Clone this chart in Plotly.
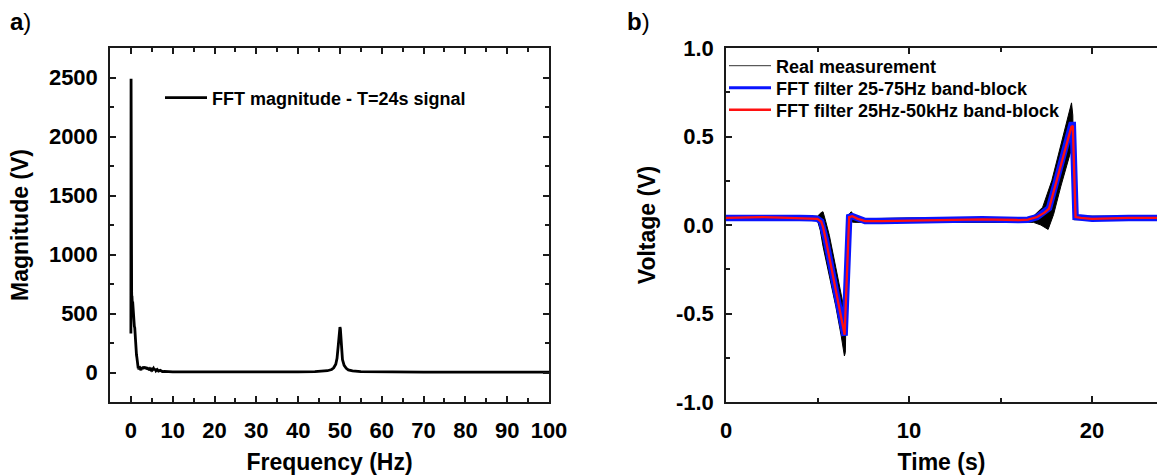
import plotly.graph_objects as go

# ---------------- Panel a) : FFT magnitude ----------------
freq_hz = [0, 0.04, 0.08, 0.12, 0.17, 0.21, 0.25, 0.33, 0.42, 0.5, 0.58, 0.67, 0.75, 0.83,
           0.92, 1.0, 1.08, 1.17, 1.25, 1.33, 1.42, 1.5, 1.58, 1.67, 1.75, 1.83, 1.92, 2.0,
           2.2, 2.4, 2.6, 2.8, 3.0, 3.2, 3.4, 3.6, 3.8, 4.0, 4.2, 4.4, 4.6, 4.8, 5.0, 5.2,
           5.4, 5.6, 5.8, 6.0, 6.3, 6.6, 7.0, 7.5, 8.0, 9.0, 10, 15, 20, 30, 40, 44, 46, 47,
           48, 48.5, 49, 49.3, 49.6, 49.8, 50.0, 50.1, 50.3, 50.6, 51, 51.5, 52, 53, 55, 58,
           62, 70, 80, 90, 100]
fft_mag = [330, 2490, 720, 640, 690, 610, 650, 590, 600, 540, 560, 480, 470, 390,
           380, 300, 290, 220, 200, 150, 130, 90, 70, 50, 35, 45, 25, 52,
           40, 20, 45, 30, 50, 35, 48, 30, 45, 25, 40, 18, 30, 22, 38, 25,
           35, 20, 32, 15, 25, 12, 18, 8, 10, 6, 6, 5, 4, 4, 5, 7, 10, 15,
           25, 40, 70, 120, 230, 340, 385, 370, 240, 110, 60, 35, 22, 14, 8, 6,
           5, 4, 4, 4, 4]
freq_ticks = [0, 10, 20, 30, 40, 50, 60, 70, 80, 90, 100]
mag_ticks = [0, 500, 1000, 1500, 2000, 2500]

# ---------------- Panel b) : time signals ----------------
# FFT filter 25Hz-50kHz band-block (red, smooth)
t_red = [0, 1, 2, 3, 4, 4.7, 5.0, 5.2, 5.3, 5.45, 6.48, 6.73, 6.9, 7.2, 7.6, 8.5, 10, 12,
         14, 16, 16.5, 17.0, 17.4, 17.65, 18.87, 18.95, 19.1, 19.4, 20, 22, 24]
v_red = [0.04, 0.042, 0.045, 0.042, 0.04, 0.038, 0.035, 0.02, -0.01, -0.08, -0.62, 0.045,
         0.05, 0.035, 0.022, 0.022, 0.025, 0.03, 0.032, 0.028, 0.03, 0.045, 0.07, 0.093,
         0.554, 0.56, 0.045, 0.04, 0.035, 0.04, 0.04]

# FFT filter 25-75Hz band-block (blue, noisy band)
t_blue = [0, 1, 2, 3, 4, 4.7, 5.0, 5.2, 5.3, 5.45, 6.48, 6.73, 6.9, 7.2, 7.6, 8.5, 10, 12,
          14, 16, 16.5, 17.0, 17.4, 17.65, 18.87, 18.95, 19.1, 19.4, 20, 22, 24]
v_blue = [0.04, 0.042, 0.045, 0.042, 0.04, 0.038, 0.035, 0.02, -0.01, -0.08, -0.625, 0.045,
          0.05, 0.035, 0.022, 0.022, 0.025, 0.03, 0.032, 0.028, 0.03, 0.045, 0.07, 0.095,
          0.565, 0.565, 0.045, 0.04, 0.035, 0.04, 0.04]

# Real measurement (black band: upper and lower envelopes)
t_meas_hi = [0, 5.0, 5.2, 5.3, 5.45, 5.65, 6.0, 6.35, 6.5, 6.56, 6.62, 6.75, 6.85, 7.0,
             7.3, 10, 16.5, 16.8, 17.3, 17.8, 18.3, 18.6, 18.88, 18.95, 19.0, 19.03, 24]
v_meas_hi = [0.05, 0.05, 0.07, 0.075, 0.02, -0.06, -0.24, -0.43, -0.5, -0.5, 0.0, 0.065,
             0.075, 0.05, 0.035, 0.04, 0.04, 0.05, 0.1, 0.25, 0.45, 0.57, 0.69, 0.62, 0.3,
             0.05, 0.05]
t_meas_lo = [0, 5.0, 5.15, 5.3, 6.0, 6.3, 6.47, 6.52, 6.58, 6.72, 7.0, 10, 16.5, 16.8,
             17.2, 17.6, 17.9, 18.3, 18.6, 18.85, 18.97, 19.02, 24]
v_meas_lo = [0.03, 0.025, -0.03, -0.12, -0.46, -0.63, -0.74, -0.72, -0.4, 0.02, 0.015, 0.015,
             0.015, 0.015, 0.0, -0.025, 0.06, 0.22, 0.33, 0.42, 0.4, 0.03, 0.03]
time_ticks = [0, 10, 20]
volt_ticks = [-1.0, -0.5, 0.0, 0.5, 1.0]
volt_labels = ["-1.0", "-0.5", "0.0", "0.5", "1.0"]

legend_a = ["FFT magnitude - T=24s signal"]
legend_b = ["Real measurement", "FFT filter 25-75Hz band-block", "FFT filter 25Hz-50kHz band-block"]

W, H = 1157, 475
FONT = "Liberation Sans, Arial, Helvetica, sans-serif"
AXC = "#1a1a1a"

def px_x(p):
    return p / W

def px_y(p):
    return 1 - p / H

fig = go.Figure()

# Panel a
fig.add_trace(go.Scatter(x=freq_hz, y=fft_mag, mode="lines", name=legend_a[0],
                         line=dict(color="black", width=2.8), xaxis="x", yaxis="y",
                         legend="legend"))

# Panel b: black measurement band
band_x = t_meas_hi + t_meas_lo[::-1]
band_y = v_meas_hi + v_meas_lo[::-1]
fig.add_trace(go.Scatter(x=band_x, y=band_y, mode="lines", fill="toself", fillcolor="black",
                         line=dict(color="black", width=1), showlegend=False,
                         xaxis="x2", yaxis="y2", hoverinfo="skip"))
fig.add_trace(go.Scatter(x=t_blue, y=v_blue, mode="lines", showlegend=False,
                         line=dict(color="#0a14ff", width=6.5), xaxis="x2", yaxis="y2"))
fig.add_trace(go.Scatter(x=t_red, y=v_red, mode="lines", showlegend=False,
                         line=dict(color="#ff1010", width=2.3), xaxis="x2", yaxis="y2"))
# legend entries for panel b (one legend each so the row spacing matches)
leg_colors = ["#333333", "#0a14ff", "#ff1010"]
leg_widths = [1, 3, 2.5]
for i, name in enumerate(legend_b):
    fig.add_trace(go.Scatter(x=[None], y=[None], mode="lines", name=name,
                             line=dict(color=leg_colors[i], width=leg_widths[i]),
                             xaxis="x2", yaxis="y2", legend=f"legend{i + 2}"))

tickfont = dict(family=FONT, size=22, color="black", weight="bold")
titlefont = dict(family=FONT, size=23, color="black", weight="bold")
common = dict(showline=True, linecolor=AXC, linewidth=1.5, ticks="inside", ticklen=6,
              tickwidth=1.5, tickcolor=AXC, showgrid=False, zeroline=False,
              tickfont=tickfont, automargin=False)

def minor(d):
    return dict(dtick=d, tick0=0, ticks="inside", ticklen=4, tickcolor=AXC, tickwidth=1.5)

def legend_at(xp, yp):
    return dict(x=px_x(xp), y=px_y(yp), xanchor="left", yanchor="middle",
                bgcolor="rgba(0,0,0,0)", itemwidth=42, tracegroupgap=0,
                font=dict(family=FONT, size=18, color="black", weight="bold"))

ydom = [px_y(402), px_y(48)]

fig.update_layout(
    width=W, height=H, margin=dict(l=0, r=0, t=0, b=0, autoexpand=False),
    paper_bgcolor="white", plot_bgcolor="white",
    showlegend=True,
    xaxis=dict(domain=[px_x(110), px_x(549)], range=[-5, 100], tickmode="array",
               tickvals=freq_ticks, ticktext=[str(v) for v in freq_ticks],
               mirror="ticks", anchor="y", ticklabelstandoff=8, minor=minor(5),
               title=dict(text="Frequency (Hz)", font=titlefont, standoff=12), **common),
    yaxis=dict(domain=ydom, range=[-250, 2750], tickmode="array",
               tickvals=mag_ticks, ticktext=[str(v) for v in mag_ticks],
               mirror="ticks", anchor="x", ticklabelstandoff=6, minor=minor(250),
               title=dict(text="Magnitude (V)", font=titlefont, standoff=14), **common),
    xaxis2=dict(domain=[px_x(726), 1.0], range=[0, 23.55], tickmode="array",
                tickvals=time_ticks, ticktext=[str(v) for v in time_ticks],
                mirror="ticks", anchor="y2", ticklabelstandoff=8, minor=minor(5),
                title=dict(text="Time (s)", font=titlefont, standoff=12), **common),
    yaxis2=dict(domain=ydom, range=[-1, 1], tickmode="array",
                tickvals=volt_ticks, ticktext=volt_labels,
                mirror=False, anchor="x2", ticklabelstandoff=6, minor=minor(0.25),
                title=dict(text="Voltage (V)", font=titlefont, standoff=14), **common),
    legend=legend_at(160, 98),
    legend2=legend_at(724, 66),
    legend3=legend_at(724, 88),
    legend4=legend_at(724, 110),
    annotations=[
        dict(text="<b>a</b>)", x=px_x(8), y=px_y(22), xref="paper", yref="paper",
             xanchor="left", yanchor="middle", showarrow=False,
             font=dict(family=FONT, size=24, color="black")),
        dict(text="<b>b</b>)", x=px_x(625), y=px_y(21), xref="paper", yref="paper",
             xanchor="left", yanchor="middle", showarrow=False,
             font=dict(family=FONT, size=24, color="black")),
    ],
)

fig.write_html("out.html", config={"displayModeBar": False},
               post_script="document.body.style.margin='0px';")
